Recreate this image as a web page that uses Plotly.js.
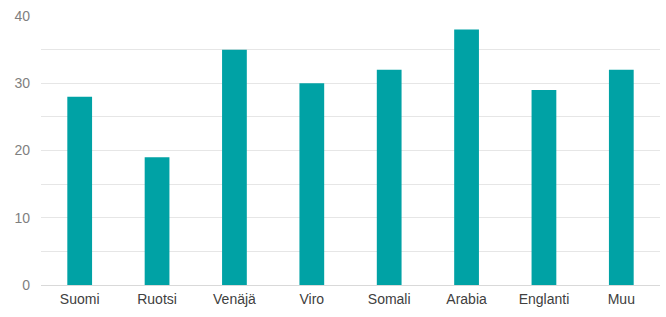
<!DOCTYPE html>
<html>
<head>
<meta charset="utf-8">
<script src="https://cdn.plot.ly/plotly-3.0.1.min.js"></script>
<style>html,body{margin:0;padding:0;background:#fff;}#chart{width:666px;height:317px;}</style>
</head>
<body>
<div id="chart"></div>
<script>
const categories = ["Suomi", "Ruotsi", "Venäjä", "Viro", "Somali", "Arabia", "Englanti", "Muu"];
const values = [28, 19, 35, 30, 32, 38, 29, 32];
const yTicks = [0, 10, 20, 30, 40];

Plotly.newPlot("chart", [{
  type: "bar",
  x: categories,
  y: values,
  marker: {color: "#00A2A5"},
  hoverinfo: "x+y"
}], {
  width: 666, height: 317,
  margin: {l: 41, r: 6, t: 16, b: 32},
  paper_bgcolor: "#fff", plot_bgcolor: "#fff",
  bargap: 0.68,
  showlegend: false,
  font: {family: "Liberation Sans, Arial, sans-serif", size: 14, color: "#404040"},
  xaxis: {
    showgrid: false, showline: true, linecolor: "#d9d9d9", linewidth: 1,
    ticks: "", tickfont: {size: 14, color: "#404040"}, ticklabelstandoff: 1
  },
  yaxis: {
    range: [0, 40], tickvals: yTicks, ticktext: yTicks.map(String),
    showgrid: true, gridcolor: "#e6e6e6", gridwidth: 1,
    minor: {dtick: 5, tick0: 0, showgrid: true, gridcolor: "#e6e6e6", gridwidth: 1},
    zeroline: false, showline: false, ticks: "",
    tickfont: {size: 14, color: "#7f7f7f"}, ticklabelstandoff: 10
  }
}, {displayModeBar: false, staticPlot: true});
</script>
</body>
</html>
